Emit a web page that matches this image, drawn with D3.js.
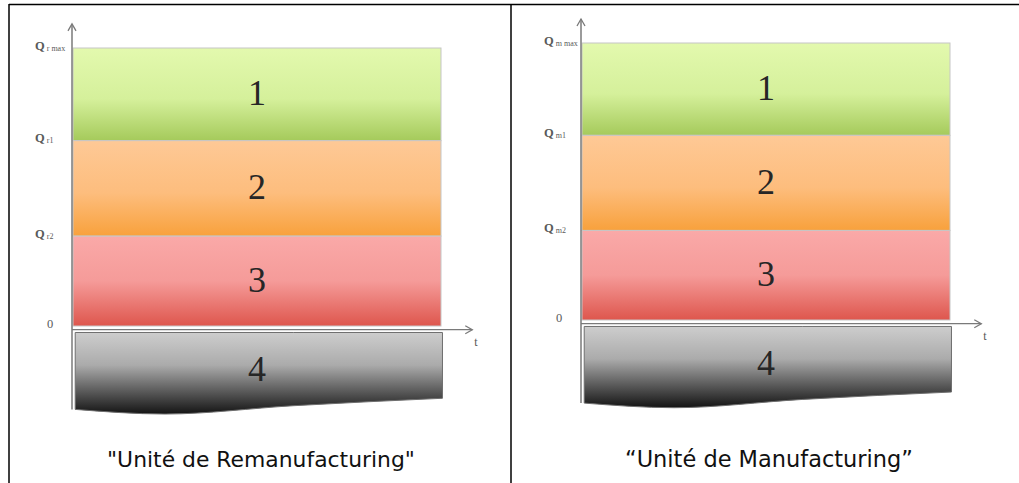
<!DOCTYPE html>
<html><head><meta charset="utf-8">
<script src="https://d3js.org/d3.v7.min.js"></script>
<style>html,body{margin:0;padding:0;background:#fff;}svg{display:block;}</style>
</head><body>
<script>
// ---------- data ----------
const panelNames = ["Remanufacturing", "Manufacturing"];
const captions = ['"Unité de Remanufacturing"', '\u201CUnité de Manufacturing\u201D'];
const levelValues = [3, 2, 0.97, 0];               // Qmax, Q1, Q2, 0
const tickMains = ["Q", "Q", "Q", "0"];
const tickSubsR = ["r max", "r1", "r2", ""];
const tickSubsM = ["m max", "m1", "m2", ""];
const bandLabels = ["1", "2", "3", "4"];
const bandTops = [3, 2, 0.97, -0.07];
const bandBottoms = [2, 0.97, 0, null];             // band 4 has a wavy bottom
const waveT = [0.006, 0.25, 0.6, 1.004];
const waveBottom = [-0.9, -0.95, -0.86, -0.78];
const axisLevel = -0.04;                           // t-axis position
const axisTop = 3.26;
const axisTEnd = 1.085;

// ---------- layout ----------
const W = 1019, H = 483;
const layout = [
  {axisX: 72, bandX1: 441, yTop: 48, yZero: 326, capX: 261, capW: 308, subs: tickSubsR},
  {axisX: 581, bandX1: 950, yTop: 43, yZero: 320, capX: 769, capW: 288, subs: tickSubsM}
];
const grads = [
  [["0", "#e3f9ae"], ["0.55", "#d5f09b"], ["1", "#a5ca5b"]],
  [["0", "#fec996"], ["0.55", "#fdbd7d"], ["1", "#f8a13c"]],
  [["0", "#faa9a8"], ["0.5", "#f59b99"], ["1", "#de564d"]],
  [["0", "#cdcdcd"], ["0.4", "#ababab"], ["1", "#141414"]]
];

const svg = d3.select("body").append("svg").attr("width", W).attr("height", H);
const defs = svg.append("defs");
grads.forEach((g, i) => {
  const lg = defs.append("linearGradient").attr("id", "g" + i)
    .attr("x1", 0).attr("y1", 0).attr("x2", 0).attr("y2", 1);
  g.forEach(s => lg.append("stop").attr("offset", s[0]).attr("stop-color", s[1]));
});

// table lines
svg.append("line").attr("x1", 9).attr("x2", W).attr("y1", 4.5).attr("y2", 4.5)
  .attr("stroke", "#000").attr("stroke-width", 1.5);
[9, 511].forEach(xx => svg.append("line").attr("x1", xx).attr("x2", xx)
  .attr("y1", 4).attr("y2", H).attr("stroke", "#000").attr("stroke-width", 1.5));

panelNames.forEach((name, p) => {
  const L = layout[p];
  const g = svg.append("g");
  const y = d3.scaleLinear().domain([0, 3]).range([L.yZero, L.yTop]);
  const x = d3.scaleLinear().domain([0, 1]).range([L.axisX + 1, L.bandX1]);

  // bands 1-3
  [0, 1, 2].forEach(i => {
    g.append("rect")
      .attr("x", x(0)).attr("width", x(1) - x(0))
      .attr("y", y(bandTops[i])).attr("height", y(bandBottoms[i]) - y(bandTops[i]))
      .attr("fill", `url(#g${i})`)
      .attr("stroke", "#c6c6c6").attr("stroke-width", 1);
  });
  // band 4 with wavy bottom
  const wave = waveT.map((t, k) => ({t, b: waveBottom[k]}));
  const area = d3.area().x(d => x(d.t)).y0(y(bandTops[3])).y1(d => y(d.b)).curve(d3.curveMonotoneX);
  g.append("path").datum(wave).attr("d", area)
    .attr("fill", "url(#g3)").attr("stroke", "#6f6f6f").attr("stroke-width", 1);

  // band numbers
  const centers = [0, 1, 2].map(i => (bandTops[i] + bandBottoms[i]) / 2).concat([-0.48]);
  bandLabels.forEach((lab, i) => {
    g.append("text").attr("x", x(0.5)).attr("y", y(centers[i]) + 11)
      .attr("text-anchor", "middle")
      .attr("font-family", "'Liberation Serif', 'DejaVu Serif', serif")
      .attr("font-size", 36).attr("fill", "#262626").text(lab);
  });

  // axes lines with arrows
  const ac = "#7a7a7a";
  g.append("line").attr("x1", L.axisX).attr("x2", L.axisX)
    .attr("y1", y(axisTop)).attr("y2", y(waveBottom[0]))
    .attr("stroke", ac).attr("stroke-width", 1.5);
  g.append("path").attr("d", `M${L.axisX - 4},${y(axisTop) + 7}L${L.axisX},${y(axisTop)}L${L.axisX + 4},${y(axisTop) + 7}`)
    .attr("fill", "none").attr("stroke", ac).attr("stroke-width", 1.3);
  const ya = y(axisLevel), xe = x(axisTEnd);
  g.append("line").attr("x1", L.axisX).attr("x2", xe).attr("y1", ya).attr("y2", ya)
    .attr("stroke", ac).attr("stroke-width", 1.3);
  g.append("path").attr("d", `M${xe - 7},${ya - 4}L${xe},${ya}L${xe - 7},${ya + 4}`)
    .attr("fill", "none").attr("stroke", ac).attr("stroke-width", 1.3);
  g.append("text").attr("x", xe + 2).attr("y", ya + 16)
    .attr("font-family", "'Liberation Serif', serif").attr("font-size", 12)
    .attr("fill", "#555").text("t");

  // level tick labels through d3 axis
  const ax = g.append("g").attr("transform", `translate(${L.axisX},0)`)
    .call(d3.axisLeft(y).tickValues(levelValues).tickSize(0).tickFormat(() => ""));
  ax.select(".domain").remove();
  ax.selectAll(".tick text").each(function (d, i) {
    const t = d3.select(this);
    t.text(null).attr("text-anchor", "start")
      .attr("x", tickMains[i] === "0" ? -25 : -37).attr("dy", "0.1em")
      .attr("font-family", "'Liberation Serif', 'DejaVu Serif', serif").attr("fill", "#5a5a5a");
    t.append("tspan").text(tickMains[i]).attr("font-weight", tickMains[i] === "0" ? "normal" : "bold").attr("font-size", 12.5);
    if (L.subs[i]) t.append("tspan").text(" " + L.subs[i]).attr("font-size", 8).attr("dy", 1);
  });

  // caption
  const cap = svg.append("text").attr("x", L.capX).attr("y", 467)
    .attr("text-anchor", "middle")
    .attr("font-family", "'Comic Sans MS', 'DejaVu Sans', sans-serif")
    .attr("font-size", 20).attr("fill", "#111").text(captions[p]);
  const w = cap.node().getComputedTextLength();
  cap.attr("font-size", 20 * L.capW / w);
});
</script>
</body></html>
